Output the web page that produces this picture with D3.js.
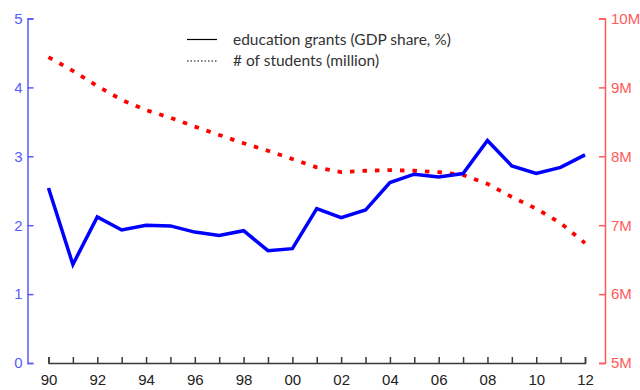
<!DOCTYPE html>
<html>
<head>
<meta charset="utf-8">
<script src="https://cdn.jsdelivr.net/npm/d3@7"></script>
<style>
  html, body { margin: 0; padding: 0; background: #fff; }
  svg { display: block; font-family: Lato, "Open Sans", sans-serif; }
</style>
</head>
<body>
<svg id="chart" width="640" height="390"></svg>
<script>
// Years 1990–2012
const years = [1990, 1991, 1992, 1993, 1994, 1995, 1996, 1997, 1998, 1999, 2000,
               2001, 2002, 2003, 2004, 2005, 2006, 2007, 2008, 2009, 2010, 2011, 2012];
// Education grants, share of GDP (%)
const grants = [2.54, 1.43, 2.12, 1.93, 2.00, 1.99, 1.90, 1.85, 1.92, 1.63, 1.66,
                2.24, 2.11, 2.22, 2.62, 2.74, 2.70, 2.75, 3.23, 2.86, 2.75, 2.84, 3.02];
// Number of students (million)
const students = [9.44, 9.24, 9.02, 8.82, 8.67, 8.56, 8.43, 8.31, 8.19, 8.08, 7.96,
                  7.84, 7.77, 7.79, 7.80, 7.79, 7.77, 7.73, 7.60, 7.41, 7.24, 7.03, 6.74];
const leftTicks = [0, 1, 2, 3, 4, 5];
const rightTicks = [5, 6, 7, 8, 9, 10];
const legendLabels = ["education grants (GDP share, %)", "# of students (million)"];

const svg = d3.select("#chart");

const x = d3.scaleLinear().domain([1990, 2012]).range([48.5, 585]);
const yL = d3.scaleLinear().domain([0, 5]).range([363, 18.5]);
const yR = d3.scaleLinear().domain([5, 10]).range([363, 18.5]);

const blue = "#0000ff", blueAxis = "#5a5aff";
const red = "#ff0000", redAxis = "#ff5a5a";
const tickFont = 15;

// Left axis (grants), ticks pointing inward
const gL = svg.append("g").attr("transform", "translate(27.5,0)")
  .call(d3.axisLeft(yL).tickValues(leftTicks).tickFormat(d3.format("d"))
    .tickSizeInner(-6).tickSizeOuter(-6).tickPadding(5));
gL.selectAll("path, line").attr("stroke", blueAxis).attr("stroke-width", 1.5);
gL.selectAll("text").attr("fill", blueAxis).style("font-size", tickFont + "px");

// Right axis (students), ticks pointing inward
const gR = svg.append("g").attr("transform", "translate(605,0)")
  .call(d3.axisRight(yR).tickValues(rightTicks).tickFormat(d => d + "M")
    .tickSizeInner(-6).tickSizeOuter(-6).tickPadding(6));
gR.selectAll("path, line").attr("stroke", redAxis).attr("stroke-width", 1.5);
gR.selectAll("text").attr("fill", redAxis).style("font-size", tickFont + "px");

// Bottom axis (years), ticks pointing up, labels every second year
const gX = svg.append("g").attr("transform", "translate(0,363)")
  .call(d3.axisBottom(x).tickValues(years)
    .tickSizeInner(-6).tickSizeOuter(-6).tickPadding(11)
    .tickFormat(d => (d % 2 === 0) ? String(d % 100).padStart(2, "0") : ""));
gX.selectAll("path, line").attr("stroke", "#3a3a3a").attr("stroke-width", 1.5);
gX.selectAll("text").attr("fill", "#222").style("font-size", tickFont + "px");
svg.selectAll(".domain").attr("fill", "none");

// Students: dotted red line on the right scale
svg.append("path")
  .datum(years.map((yr, i) => [yr, students[i]]))
  .attr("fill", "none")
  .attr("stroke", red)
  .attr("stroke-width", 3.8)
  .attr("stroke-dasharray", "4.5,8")
  .attr("d", d3.line().x(d => x(d[0])).y(d => yR(d[1])));

// Grants: solid blue line on the left scale
svg.append("path")
  .datum(years.map((yr, i) => [yr, grants[i]]))
  .attr("fill", "none")
  .attr("stroke", blue)
  .attr("stroke-width", 3.5)
  .attr("d", d3.line().x(d => x(d[0])).y(d => yL(d[1])));

// Legend
const legend = svg.append("g");
legendLabels.forEach((label, i) => {
  const ly = 39.5 + i * 21.5;
  legend.append("line")
    .attr("x1", 187).attr("x2", 217).attr("y1", ly).attr("y2", ly)
    .attr("stroke", "#000").attr("stroke-width", 1.2)
    .attr("stroke-dasharray", i === 0 ? null : "1.5,2");
  legend.append("text")
    .attr("x", 233).attr("y", ly).attr("dy", "0.35em")
    .attr("fill", "#333").style("font-size", "15.5px")
    .text(label);
});
</script>
</body>
</html>
